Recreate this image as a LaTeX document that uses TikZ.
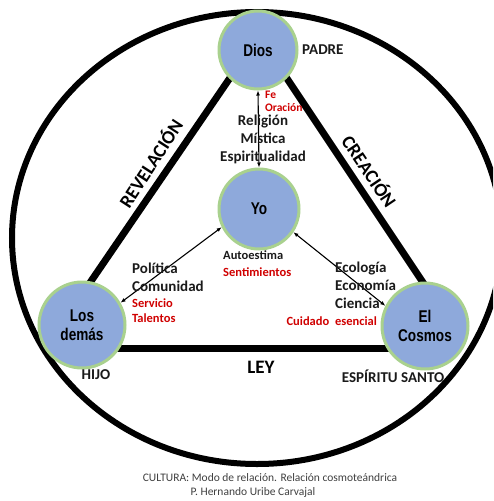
\documentclass[tikz,border=0pt]{standalone}
\usepackage{fontspec}
\setmainfont{Carlito}
\newfontfamily\narrowf{Liberation Sans}[FakeStretch=0.8]
\usetikzlibrary{arrows.meta}
\definecolor{nodeblue}{HTML}{8EA9DB}
\definecolor{nodegreen}{HTML}{A9D18E}
\definecolor{txtred}{HTML}{D00000}
\definecolor{txtgray}{HTML}{1A1A1A}
\definecolor{capgray}{HTML}{404040}
\begin{document}
\begin{tikzpicture}[x=1pt,y=-1pt,
  entity/.style={circle, fill=nodeblue, draw=nodegreen, line width=3pt, inner sep=0pt, align=center, text=black, font=\narrowf\bfseries\fontsize{17}{19}\selectfont},
  bar/.style={line width=7pt, black},
  lbl/.style={font=\bfseries\fontsize{15}{18}\selectfont, inner sep=0pt, text=txtgray},
  rlbl/.style={font=\bfseries\fontsize{12.5}{15}\selectfont, inner sep=0pt, text=txtred},
  big/.style={font=\bfseries\fontsize{19}{22}\selectfont, inner sep=0pt, text=black},
  captxt/.style={font=\fontsize{11.5}{14}\selectfont, inner sep=0pt, text=capgray},
  rel/.style={{Latex[length=5pt,width=4pt]}-{Latex[length=5pt,width=4pt]}, line width=1.1pt}
]
\useasboundingbox (0,0) rectangle (493,501);
\clip (0,0) rectangle (493,501);
\fill[white] (0,0) rectangle (493,501);
\draw[line width=6pt] (257,238) ellipse [x radius=245, y radius=226];

\coordinate (la) at (85,290);
\coordinate (lb) at (234,72);
\coordinate (ra) at (284,74);
\coordinate (rb) at (426,287);
\coordinate (ba) at (115,348);
\coordinate (bb) at (395,348);
\draw[bar] (la) -- (lb);
\draw[bar] (ra) -- (rb);
\draw[bar] (ba) -- (bb);

\node[entity, minimum size=78pt] (dios) at (258,50) {Dios};
\node[entity, minimum size=80pt] (yo) at (259,209) {Yo};
\node[entity, minimum size=86pt] (demas) at (82,325) {Los\\demás};
\node[entity, minimum size=86pt] (cosmos) at (425,326) {El\\Cosmos};

\draw[rel] (dios.south) -- (yo.north);
\draw[rel] (yo.206) -- (demas.30);
\draw[rel] (yo.326) -- (cosmos.153);

\node[lbl, anchor=west] (padre) at (302,50) {PADRE};
\node[rlbl, font=\bfseries\fontsize{11.5}{13}\selectfont, anchor=west, align=left] (fe) at (265,101) {Fe\\Oración};
\node[lbl, align=center] (relig) at (263,139) {Religión\\Mística\\Espiritualidad};

\node[big, rotate=57] (revel) at (150,163) {REVELACIÓN};
\node[big, rotate=-56] (crea) at (370,171) {CREACIÓN};
\node[big] (ley) at (261,367) {LEY};

\node[lbl] (hijo) at (96,375) {HIJO};
\node[lbl] (espiritu) at (393,376) {ESPÍRITU SANTO};

\node[lbl, anchor=west, align=left] (polit) at (132,277) {Política\\Comunidad};
\node[rlbl, anchor=west, align=left] (serv) at (132,310.5) {Servicio\\Talentos};
\node[lbl, font=\bfseries\fontsize{12.5}{15}\selectfont, anchor=west] (auto) at (223,255) {Autoestima};
\node[rlbl, anchor=west] (senti) at (223,272) {Sentimientos};
\node[lbl, anchor=west, align=left] (eco) at (335,285) {Ecología\\Economía\\Ciencia};
\node[rlbl, anchor=east] (cuid) at (377,321) {Cuidado\ \ esencial};

\node[captxt] (cap1) at (270,478) {CULTURA: Modo de relación. Relación cosmoteándrica};
\node[captxt] (cap2) at (253,492) {P. Hernando Uribe Carvajal};
\end{tikzpicture}
\end{document}
